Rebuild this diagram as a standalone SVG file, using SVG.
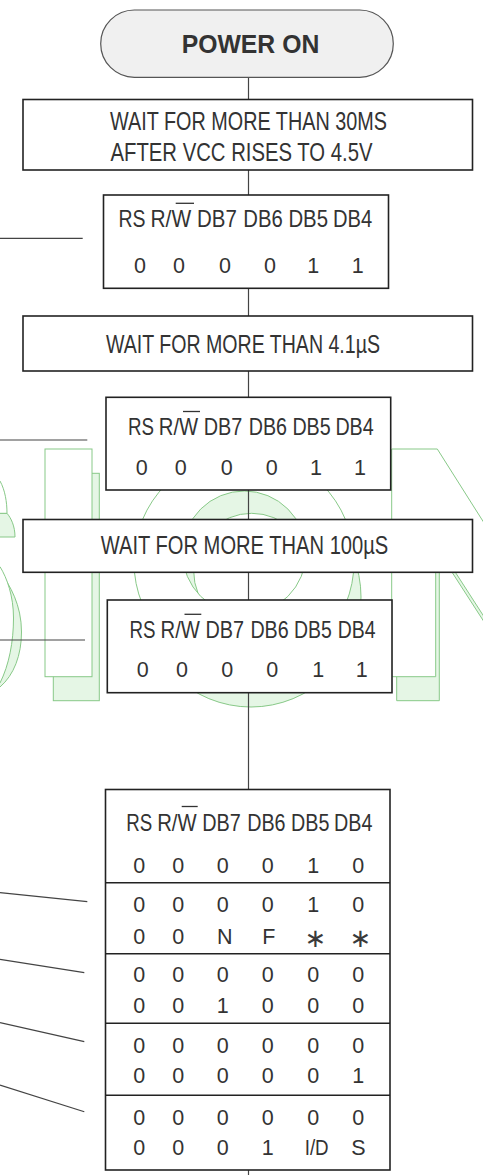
<svg xmlns="http://www.w3.org/2000/svg" width="483" height="1175" viewBox="0 0 483 1175">
<style>
.box{fill:#fff;stroke:#222;stroke-width:1.6}
.term{fill:#f0f0f0;stroke:#555;stroke-width:1.2}
.ln{stroke:#444;stroke-width:1.2;fill:none}
.ov{stroke:#333;stroke-width:1.3}
.t{font-family:"Liberation Sans",Arial,sans-serif;fill:#333}
.bg{font-size:26px}
.hd{font-size:24.5px}
.dg{font-size:21.5px;text-anchor:middle}
.ast{font-family:"DejaVu Sans",sans-serif;font-size:26px;text-anchor:middle;fill:#3a3a3a}
.wf{fill:#fff;stroke:#88c988;stroke-width:1}
.ws{fill:#e5f6e5;stroke:#88c988;stroke-width:1}
</style>
<rect x="0" y="0" width="483" height="1175" fill="#fff"/>
<g id="watermark">
  <path class="ws" d="M-5,513.3 H7 C11,518 15,526 15,537 H-5 Z"/>
  <path class="wf" d="M-5,481 H0 C5,490 7,502 7,513.3 H-5 Z"/>
  <path class="ws" d="M-5,572 H0 C10,585 21.5,605 21.5,632 C21.5,655 14,675 0,687 H-5 Z"/>
  <path class="wf" d="M-5,566.7 H0 C7,578 13.5,596 13.5,618 C13.5,642 9,665 0,683 H-5 Z"/>
  <rect class="ws" x="53.3" y="473.3" width="46" height="227.4"/>
  <rect class="wf" x="45" y="449" width="47" height="227.7"/>
  <path class="ws" fill-rule="evenodd" d="M361,597 A110,110 0 1 0 141,597 A110,110 0 1 0 361,597 Z M309.7,571.3 A58,58 0 1 0 193.7,571.3 A58,58 0 1 0 309.7,571.3 Z"/>
  <path class="wf" fill-rule="evenodd" d="M354,562 A110,110 0 1 0 134,562 A110,110 0 1 0 354,562 Z M306,552.7 A61.7,61.7 0 1 0 182.6,552.7 A61.7,61.7 0 1 0 306,552.7 Z"/>
  <path class="ws" d="M396.7,473 H441 L560,661 L560,739.6 L439.3,552.5 V700.7 H396.7 Z"/>
  <path class="wf" d="M391.7,449 H437.3 L560,643 L560,734.5 L435.7,541.8 V676.7 H391.7 Z"/>
</g>
<g id="connectors">
  <line class="ln" x1="248.5" y1="77" x2="248.5" y2="100"/>
  <line class="ln" x1="248.5" y1="170" x2="248.5" y2="195"/>
  <line class="ln" x1="248.5" y1="288" x2="248.5" y2="316"/>
  <line class="ln" x1="248.5" y1="371" x2="248.5" y2="397.5"/>
  <line class="ln" x1="248.5" y1="490" x2="248.5" y2="519.5"/>
  <line class="ln" x1="248.5" y1="572" x2="248.5" y2="600"/>
  <line class="ln" x1="248.5" y1="692.5" x2="248.5" y2="789.5"/>
  <line class="ln" x1="248.5" y1="1170" x2="248.5" y2="1175"/>
  <line class="ln" x1="0" y1="238.3" x2="82.7" y2="238.3"/>
  <line class="ln" x1="0" y1="440" x2="87.3" y2="440"/>
  <line class="ln" x1="0" y1="640" x2="85" y2="640"/>
  <line class="ln" x1="0" y1="892.7" x2="87.3" y2="901.7"/>
  <line class="ln" x1="0" y1="959.3" x2="84.3" y2="972.7"/>
  <line class="ln" x1="0" y1="1022.7" x2="84.3" y2="1041.7"/>
  <line class="ln" x1="0" y1="1085" x2="84.3" y2="1111.7"/>
</g>
<g id="power-on">
  <rect class="term" x="100.7" y="10" width="292.6" height="67.3" rx="33.65" ry="33.65"/>
  <text class="t" x="250.5" y="53.3" font-size="25" font-weight="bold" text-anchor="middle" textLength="137.6" lengthAdjust="spacingAndGlyphs">POWER ON</text>
</g>
<g id="wait-30ms">
  <rect class="box" x="23" y="99.5" width="449.5" height="70.5"/>
  <text class="t bg" x="110" y="130" textLength="277" lengthAdjust="spacingAndGlyphs">WAIT FOR MORE THAN 30MS</text>
  <text class="t bg" x="110.5" y="160.5" textLength="262" lengthAdjust="spacingAndGlyphs">AFTER VCC RISES TO 4.5V</text>
</g>
<g id="cmd-1">
  <rect class="box" x="103.5" y="195" width="285" height="93.3"/>
  <text class="t hd" x="118.5" y="226.7" textLength="27" lengthAdjust="spacingAndGlyphs">RS</text>
  <text class="t hd" x="150.5" y="226.7" textLength="40.6" lengthAdjust="spacingAndGlyphs">R/W</text>
  <text class="t hd" x="197" y="226.7" textLength="39.8" lengthAdjust="spacingAndGlyphs">DB7</text>
  <text class="t hd" x="243.3" y="226.7" textLength="39.5" lengthAdjust="spacingAndGlyphs">DB6</text>
  <text class="t hd" x="288.4" y="226.7" textLength="39.6" lengthAdjust="spacingAndGlyphs">DB5</text>
  <text class="t hd" x="333" y="226.7" textLength="39.2" lengthAdjust="spacingAndGlyphs">DB4</text>
  <line class="ov" x1="175.7" y1="203.3" x2="194" y2="203.3"/>
  <text class="t dg" x="140" y="273.3">0</text>
  <text class="t dg" x="179" y="273.3">0</text>
  <text class="t dg" x="225" y="273.3">0</text>
  <text class="t dg" x="270" y="273.3">0</text>
  <text class="t dg" x="313.3" y="273.3">1</text>
  <text class="t dg" x="357.7" y="273.3">1</text>
</g>
<g id="wait-4us">
  <rect class="box" x="23" y="316" width="449.5" height="55"/>
  <text class="t bg" x="106" y="353" textLength="274" lengthAdjust="spacingAndGlyphs">WAIT FOR MORE THAN 4.1µS</text>
</g>
<g id="cmd-2">
  <rect class="box" x="106" y="397.3" width="284.7" height="92.7"/>
  <text class="t hd" x="128" y="435" textLength="26" lengthAdjust="spacingAndGlyphs">RS</text>
  <text class="t hd" x="158.8" y="435" textLength="39.3" lengthAdjust="spacingAndGlyphs">R/W</text>
  <text class="t hd" x="203.8" y="435" textLength="38.6" lengthAdjust="spacingAndGlyphs">DB7</text>
  <text class="t hd" x="248.7" y="435" textLength="38.3" lengthAdjust="spacingAndGlyphs">DB6</text>
  <text class="t hd" x="292.4" y="435" textLength="38.3" lengthAdjust="spacingAndGlyphs">DB5</text>
  <text class="t hd" x="335.4" y="435" textLength="38.3" lengthAdjust="spacingAndGlyphs">DB4</text>
  <line class="ov" x1="183" y1="411.5" x2="200" y2="411.5"/>
  <text class="t dg" x="141.7" y="475">0</text>
  <text class="t dg" x="180.7" y="475">0</text>
  <text class="t dg" x="226.7" y="475">0</text>
  <text class="t dg" x="271.7" y="475">0</text>
  <text class="t dg" x="316" y="475">1</text>
  <text class="t dg" x="360" y="475">1</text>
</g>
<g id="wait-100us">
  <rect class="box" x="23" y="519.5" width="449.5" height="52.8"/>
  <text class="t bg" x="100.7" y="554" textLength="287.6" lengthAdjust="spacingAndGlyphs">WAIT FOR MORE THAN 100µS</text>
</g>
<g id="cmd-3">
  <rect class="box" x="107.3" y="600" width="284.7" height="92.7"/>
  <text class="t hd" x="129.6" y="638" textLength="26" lengthAdjust="spacingAndGlyphs">RS</text>
  <text class="t hd" x="160.5" y="638" textLength="39.4" lengthAdjust="spacingAndGlyphs">R/W</text>
  <text class="t hd" x="205.4" y="638" textLength="38.6" lengthAdjust="spacingAndGlyphs">DB7</text>
  <text class="t hd" x="250.4" y="638" textLength="38.3" lengthAdjust="spacingAndGlyphs">DB6</text>
  <text class="t hd" x="294" y="638" textLength="37.8" lengthAdjust="spacingAndGlyphs">DB5</text>
  <text class="t hd" x="337.8" y="638" textLength="37.8" lengthAdjust="spacingAndGlyphs">DB4</text>
  <line class="ov" x1="184.5" y1="614.3" x2="201.3" y2="614.3"/>
  <text class="t dg" x="142.7" y="676.7">0</text>
  <text class="t dg" x="182" y="676.7">0</text>
  <text class="t dg" x="227.3" y="676.7">0</text>
  <text class="t dg" x="272.3" y="676.7">0</text>
  <text class="t dg" x="318.3" y="676.7">1</text>
  <text class="t dg" x="361.7" y="676.7">1</text>
</g>
<g id="cmd-4">
  <rect class="box" x="105.5" y="789.5" width="284.5" height="380.5"/>
  <line class="box" x1="105.5" y1="882.7" x2="390" y2="882.7"/>
  <line class="box" x1="105.5" y1="953.7" x2="390" y2="953.7"/>
  <line class="box" x1="105.5" y1="1023.3" x2="390" y2="1023.3"/>
  <line class="box" x1="105.5" y1="1095.3" x2="390" y2="1095.3"/>
  <text class="t hd" x="126.3" y="830.5" textLength="26" lengthAdjust="spacingAndGlyphs">RS</text>
  <text class="t hd" x="157.2" y="830.5" textLength="39.4" lengthAdjust="spacingAndGlyphs">R/W</text>
  <text class="t hd" x="202.2" y="830.5" textLength="38.6" lengthAdjust="spacingAndGlyphs">DB7</text>
  <text class="t hd" x="247.2" y="830.5" textLength="38.4" lengthAdjust="spacingAndGlyphs">DB6</text>
  <text class="t hd" x="291" y="830.5" textLength="38.4" lengthAdjust="spacingAndGlyphs">DB5</text>
  <text class="t hd" x="334" y="830.5" textLength="38.4" lengthAdjust="spacingAndGlyphs">DB4</text>
  <line class="ov" x1="181.7" y1="806.5" x2="197.7" y2="806.5"/>
  <text class="t dg" x="139.3" y="873.3">0</text><text class="t dg" x="178.3" y="873.3">0</text><text class="t dg" x="222.7" y="873.3">0</text><text class="t dg" x="267.7" y="873.3">0</text><text class="t dg" x="313.3" y="873.3">1</text><text class="t dg" x="358.3" y="873.3">0</text>
  <text class="t dg" x="139.3" y="911.7">0</text><text class="t dg" x="178.3" y="911.7">0</text><text class="t dg" x="222.7" y="911.7">0</text><text class="t dg" x="267.7" y="911.7">0</text><text class="t dg" x="313.3" y="911.7">1</text><text class="t dg" x="358.3" y="911.7">0</text>
  <text class="t dg" x="139.3" y="944">0</text><text class="t dg" x="178.3" y="944">0</text><text class="t dg" x="224.7" y="944">N</text><text class="t dg" x="268.7" y="944">F</text><text class="ast" x="315.3" y="947">∗</text><text class="ast" x="360.3" y="947">∗</text>
  <text class="t dg" x="139.3" y="982.3">0</text><text class="t dg" x="178.3" y="982.3">0</text><text class="t dg" x="222.7" y="982.3">0</text><text class="t dg" x="267.7" y="982.3">0</text><text class="t dg" x="313.3" y="982.3">0</text><text class="t dg" x="358.3" y="982.3">0</text>
  <text class="t dg" x="139.3" y="1013.3">0</text><text class="t dg" x="178.3" y="1013.3">0</text><text class="t dg" x="222.7" y="1013.3">1</text><text class="t dg" x="267.7" y="1013.3">0</text><text class="t dg" x="313.3" y="1013.3">0</text><text class="t dg" x="358.3" y="1013.3">0</text>
  <text class="t dg" x="139.3" y="1052.7">0</text><text class="t dg" x="178.3" y="1052.7">0</text><text class="t dg" x="222.7" y="1052.7">0</text><text class="t dg" x="267.7" y="1052.7">0</text><text class="t dg" x="313.3" y="1052.7">0</text><text class="t dg" x="358.3" y="1052.7">0</text>
  <text class="t dg" x="139.3" y="1083.3">0</text><text class="t dg" x="178.3" y="1083.3">0</text><text class="t dg" x="222.7" y="1083.3">0</text><text class="t dg" x="267.7" y="1083.3">0</text><text class="t dg" x="313.3" y="1083.3">0</text><text class="t dg" x="358.3" y="1083.3">1</text>
  <text class="t dg" x="139.3" y="1125">0</text><text class="t dg" x="178.3" y="1125">0</text><text class="t dg" x="222.7" y="1125">0</text><text class="t dg" x="267.7" y="1125">0</text><text class="t dg" x="313.3" y="1125">0</text><text class="t dg" x="358.3" y="1125">0</text>
  <text class="t dg" x="139.3" y="1155">0</text><text class="t dg" x="178.3" y="1155">0</text><text class="t dg" x="222.7" y="1155">0</text><text class="t dg" x="267.7" y="1155">1</text><text class="t dg" x="316.7" y="1155" textLength="24" lengthAdjust="spacingAndGlyphs">I/D</text><text class="t dg" x="358.3" y="1155">S</text>
</g>
</svg>
